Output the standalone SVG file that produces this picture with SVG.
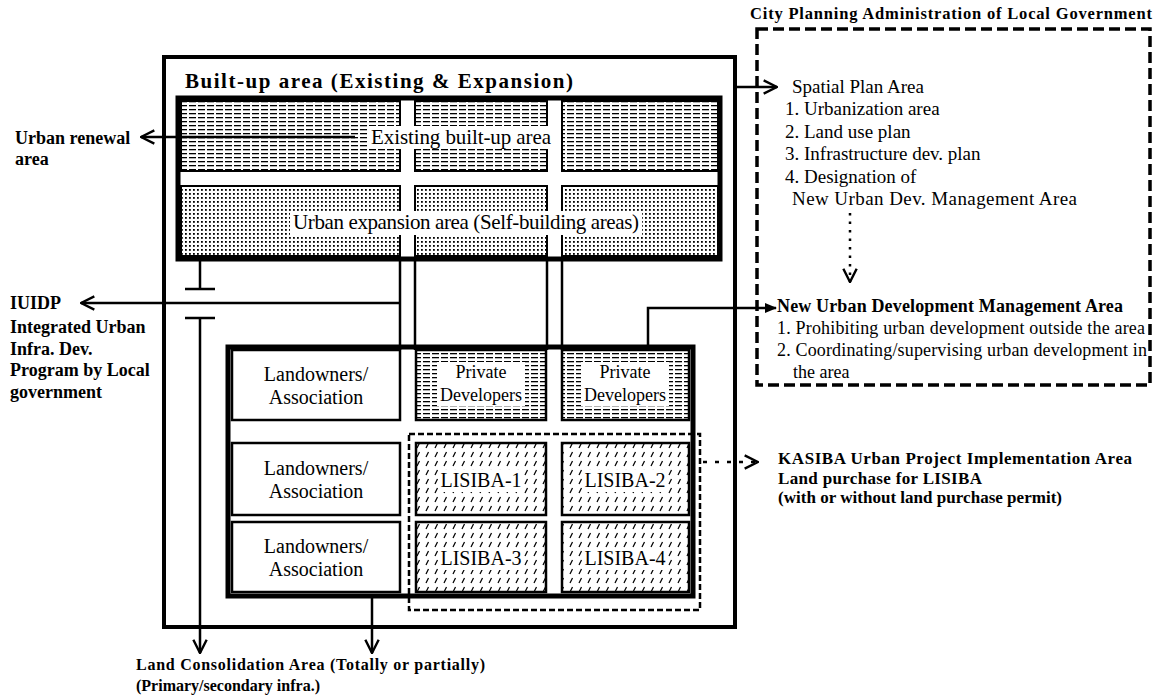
<svg xmlns="http://www.w3.org/2000/svg" width="1153" height="696" viewBox="0 0 1153 696">
<style>
text{font-family:"Liberation Serif","Times New Roman",serif;fill:#000}
.b{font-weight:bold}
.box{fill:none;stroke:#000}
.cell{fill:#fff;stroke:#000;stroke-width:2.5}
.ln{stroke:#000;stroke-width:2.5;fill:none}
.m{text-anchor:middle}
</style>
<defs>
<pattern id="hatchH" patternUnits="userSpaceOnUse" width="9" height="4">
<rect x="0" y="0" width="9" height="4" fill="#fff"/>
<rect x="0" y="1" width="7" height="1.3" fill="#000"/>
</pattern>
<pattern id="dots" patternUnits="userSpaceOnUse" width="4" height="4">
<rect x="0" y="0" width="4" height="4" fill="#fff"/>
<rect x="1" y="1" width="1.8" height="1.8" fill="#000"/>
</pattern>
<pattern id="diag" patternUnits="userSpaceOnUse" width="9" height="9">
<rect x="0" y="0" width="9" height="9" fill="#fff"/>
<line x1="3" y1="7" x2="5.5" y2="2" stroke="#000" stroke-width="1.2"/>
</pattern>
<marker id="open" viewBox="0 0 12 12" refX="11" refY="6" markerWidth="16" markerHeight="16" markerUnits="userSpaceOnUse" orient="auto">
<path d="M1,1 L11,6 L1,11" fill="none" stroke="#000" stroke-width="1.8"/>
</marker>
<marker id="fill" viewBox="0 0 12 12" refX="11" refY="6" markerWidth="12" markerHeight="12" markerUnits="userSpaceOnUse" orient="auto">
<path d="M0,1 L12,6 L0,11 z" fill="#000"/>
</marker>
</defs>
<rect x="0" y="0" width="1153" height="696" fill="#fff"/>

<g id="city-planning">
<text x="750" y="19" class="b" font-size="16.5" textLength="402">City Planning Administration of Local Government</text>
<rect x="757" y="29" width="393" height="356" class="box" stroke-width="3.5" stroke-dasharray="11 5"/>
<text x="792" y="93" font-size="19">Spatial Plan Area</text>
<text x="785" y="115" font-size="19">1. Urbanization area</text>
<text x="785" y="138" font-size="19">2. Land use plan</text>
<text x="785" y="160" font-size="19">3. Infrastructure dev. plan</text>
<text x="785" y="183" font-size="19">4. Designation of</text>
<text x="792" y="205" font-size="19" textLength="285">New Urban Dev. Management Area</text>
<text x="777" y="312" class="b" font-size="18" textLength="346">New Urban Development Management Area</text>
<text x="777" y="334" font-size="18" textLength="368">1. Prohibiting urban development outside the area</text>
<text x="777" y="356" font-size="18" textLength="370">2. Coordinating/supervising urban development in</text>
<text x="793" y="378" font-size="18">the area</text>
</g>

<g id="builtup-area">
<rect x="164" y="57" width="571" height="570" class="box" stroke-width="4"/>
<text x="185" y="88" class="b" font-size="21" textLength="388">Built-up area (Existing &amp; Expansion)</text>
</g>

<g id="existing-builtup">
<rect x="181" y="101" width="219" height="70" fill="url(#hatchH)" stroke="#000" stroke-width="2"/>
<rect x="415" y="101" width="132" height="70" fill="url(#hatchH)" stroke="#000" stroke-width="2"/>
<rect x="562" y="101" width="156" height="70" fill="url(#hatchH)" stroke="#000" stroke-width="2"/>
<rect x="369" y="126" width="184" height="23" fill="#fff"/>
<text x="461" y="144" class="m" font-size="21" textLength="180">Existing built-up area</text>
</g>

<g id="urban-expansion">
<rect x="181" y="186" width="219" height="70" fill="url(#dots)" stroke="#000" stroke-width="2"/>
<rect x="415" y="186" width="132" height="70" fill="url(#dots)" stroke="#000" stroke-width="2"/>
<rect x="562" y="186" width="156" height="70" fill="url(#dots)" stroke="#000" stroke-width="2"/>
<rect x="290" y="211" width="352" height="24" fill="#fff"/>
<text x="466" y="229" class="m" font-size="21" textLength="346">Urban expansion area (Self-building areas)</text>
<rect x="178" y="98" width="542" height="161" class="box" stroke-width="5"/>
</g>

<g id="project-area">
<rect x="228" y="347" width="465" height="249" fill="#fff" stroke="#000" stroke-width="5"/>
</g>

<g id="landowners-1">
<rect x="232" y="350" width="168" height="70" class="cell"/>
<text x="316" y="381" class="m" font-size="20">Landowners/</text>
<text x="316" y="404" class="m" font-size="20">Association</text>
</g>
<g id="private-dev-1">
<rect x="416" y="350" width="130" height="70" class="cell" style="fill:url(#hatchH)"/>
<rect x="437" y="362" width="88" height="44" fill="#fff"/>
<text x="481" y="378" class="m" font-size="18">Private</text>
<text x="481" y="401" class="m" font-size="18">Developers</text>
</g>
<g id="private-dev-2">
<rect x="562" y="350" width="127" height="70" class="cell" style="fill:url(#hatchH)"/>
<rect x="581" y="362" width="88" height="44" fill="#fff"/>
<text x="625" y="378" class="m" font-size="18">Private</text>
<text x="625" y="401" class="m" font-size="18">Developers</text>
</g>
<g id="landowners-2">
<rect x="232" y="443" width="168" height="72" class="cell"/>
<text x="316" y="475" class="m" font-size="20">Landowners/</text>
<text x="316" y="498" class="m" font-size="20">Association</text>
</g>
<g id="lisiba-1">
<rect x="416" y="443" width="130" height="72" class="cell" style="fill:url(#diag)"/>
<rect x="442" y="470" width="78" height="22" fill="#fff"/>
<text x="481" y="487" class="m" font-size="20">LISIBA-1</text>
</g>
<g id="lisiba-2">
<rect x="562" y="443" width="127" height="72" class="cell" style="fill:url(#diag)"/>
<rect x="586" y="470" width="78" height="22" fill="#fff"/>
<text x="625" y="487" class="m" font-size="20">LISIBA-2</text>
</g>
<g id="landowners-3">
<rect x="232" y="522" width="168" height="70" class="cell"/>
<text x="316" y="553" class="m" font-size="20">Landowners/</text>
<text x="316" y="576" class="m" font-size="20">Association</text>
</g>
<g id="lisiba-3">
<rect x="416" y="522" width="130" height="70" class="cell" style="fill:url(#diag)"/>
<rect x="442" y="548" width="78" height="22" fill="#fff"/>
<text x="481" y="565" class="m" font-size="20">LISIBA-3</text>
</g>
<g id="lisiba-4">
<rect x="562" y="522" width="127" height="70" class="cell" style="fill:url(#diag)"/>
<rect x="586" y="548" width="78" height="22" fill="#fff"/>
<text x="625" y="565" class="m" font-size="20">LISIBA-4</text>
</g>
<g id="kasiba-area">
<rect x="409" y="434" width="291" height="176" class="box" stroke-width="2.5" stroke-dasharray="6 3"/>
</g>

<g id="labels-left">
<text x="15" y="144" class="b" font-size="18">Urban renewal</text>
<text x="15" y="165" class="b" font-size="18">area</text>
<text x="10" y="309" class="b" font-size="18">IUIDP</text>
<text x="10" y="333" class="b" font-size="18">Integrated Urban</text>
<text x="10" y="355" class="b" font-size="18">Infra. Dev.</text>
<text x="10" y="376" class="b" font-size="18">Program by Local</text>
<text x="10" y="398" class="b" font-size="18">government</text>
</g>
<g id="label-kasiba">
<text x="778" y="464" class="b" font-size="17" textLength="354">KASIBA Urban Project Implementation Area</text>
<text x="778" y="484" class="b" font-size="17" textLength="204">Land purchase for LISIBA</text>
<text x="778" y="503" class="b" font-size="17" textLength="284">(with or without land purchase permit)</text>
</g>
<g id="label-consolidation">
<text x="136" y="670" class="b" font-size="16" textLength="349">Land Consolidation Area (Totally or partially)</text>
<text x="136" y="691" class="b" font-size="16">(Primary/secondary infra.)</text>
</g>

<g id="connectors">
<line x1="355" y1="137" x2="141" y2="137" class="ln" stroke-width="2" marker-end="url(#open)"/>
<line x1="400" y1="303" x2="81" y2="303" class="ln" stroke-width="2" marker-end="url(#open)"/>
<path d="M200,259 V289 M185,289 H215 M185,318 H215" class="ln"/>
<line x1="200" y1="318" x2="200" y2="653" class="ln" marker-end="url(#open)"/>
<line x1="372" y1="596" x2="372" y2="653" class="ln" marker-end="url(#open)"/>
<line x1="400" y1="259" x2="400" y2="350" class="ln"/>
<line x1="415" y1="259" x2="415" y2="350" class="ln"/>
<line x1="547" y1="259" x2="547" y2="350" class="ln"/>
<line x1="562" y1="259" x2="562" y2="350" class="ln"/>
<line x1="735" y1="87" x2="777" y2="87" class="ln" stroke-width="2" marker-end="url(#open)"/>
<line x1="850" y1="213" x2="850" y2="282" class="ln" stroke-width="3" stroke-dasharray="2.5 6" marker-end="url(#open)"/>
<polyline points="648,347 648,308 776,308" class="ln" stroke-width="2" marker-end="url(#fill)"/>
<line x1="703" y1="462" x2="758" y2="462" class="ln" stroke-width="2.5" stroke-dasharray="4 8" marker-end="url(#open)"/>
</g>
</svg>
